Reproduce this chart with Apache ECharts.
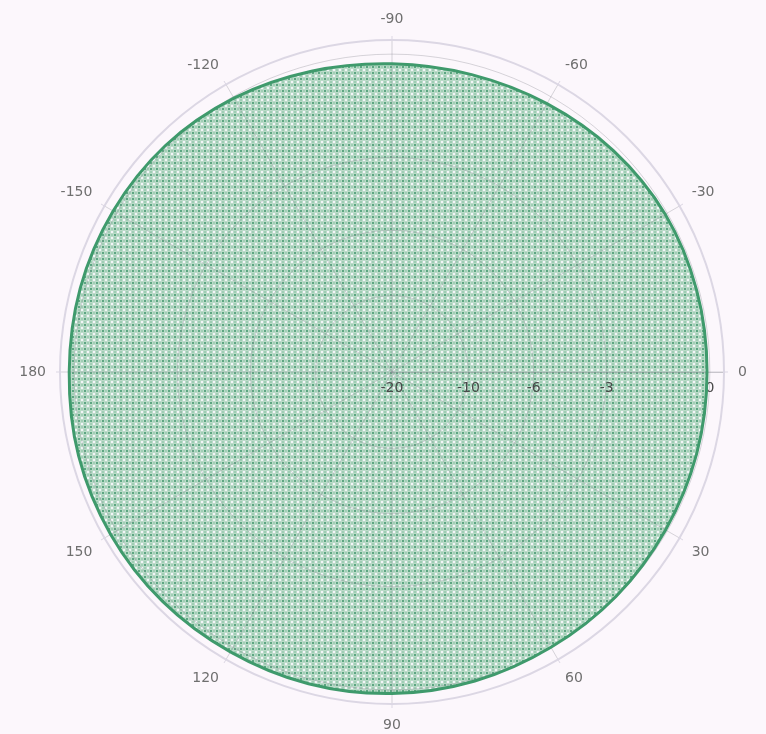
<!DOCTYPE html>
<html>
<head>
<meta charset="utf-8">
<script src="https://cdn.jsdelivr.net/npm/echarts@6/dist/echarts.min.js"></script>
<style>
html,body{margin:0;padding:0;background:#fcf7fc;}
#chart{width:766px;height:734px;}
</style>
</head>
<body>
<div id="chart"></div>
<script>
// Angles in degrees (0 = right, increasing clockwise, -90 = top)
const angles = [-180,-165,-150,-135,-120,-105,-90,-75,-60,-45,-30,-15,0,15,30,45,60,75,90,105,120,135,150,165];
// Pattern gain in dB
const gainDb = [0.12,0.12,0.10,0.06,-0.04,-0.16,-0.24,-0.25,-0.20,-0.12,-0.06,-0.06,-0.07,-0.06,-0.05,-0.02,0.00,0.05,0.09,0.12,0.13,0.16,0.17,0.16];
// Radial tick labels (dB)
const radialTicksDb = [-20,-10,-6,-3,0];
// Angular tick labels
const angleTicks = [0,30,60,90,120,150,180,-150,-120,-90,-60,-30];

const dbToMag = d => Math.pow(10, d / 20);
const toAxisAngle = a => (a < 0 ? a + 360 : a);

const seriesData = angles.map((a, i) => [dbToMag(gainDb[i]), toAxisAngle(a)]);

// dotted fill pattern
const pc = document.createElement('canvas');
pc.width = 6; pc.height = 6;
const g = pc.getContext('2d');
g.fillStyle = '#bbdbc9'; g.fillRect(0,0,6,6);
g.fillStyle = '#5ca682'; g.fillRect(0,0,2,2);
g.fillStyle = '#f3f5f8'; g.fillRect(3,3,2,2);
g.fillStyle = '#a0ceb5'; g.fillRect(3,0,2,2); g.fillRect(0,3,2,2);

// closed smooth curve through points placed by the polar coordinate system
function closedPath(api) {
  const pts = seriesData.map(d => api.coord(d));
  const n = pts.length;
  let s = 'M' + pts[0][0] + ' ' + pts[0][1];
  for (let i = 0; i < n; i++) {
    const p0 = pts[(i - 1 + n) % n], p1 = pts[i], p2 = pts[(i + 1) % n], p3 = pts[(i + 2) % n];
    const c1x = p1[0] + (p2[0] - p0[0]) / 6, c1y = p1[1] + (p2[1] - p0[1]) / 6;
    const c2x = p2[0] - (p3[0] - p1[0]) / 6, c2y = p2[1] - (p3[1] - p1[1]) / 6;
    s += 'C' + c1x + ' ' + c1y + ' ' + c2x + ' ' + c2y + ' ' + p2[0] + ' ' + p2[1];
  }
  return s + 'Z';
}

const gridColor = 'rgba(140,140,150,0.35)';
const chart = echarts.init(document.getElementById('chart'), null, {renderer: 'canvas'});
chart.setOption({
  backgroundColor: '#fcf7fc',
  animation: false,
  polar: { center: [392, 372], radius: 332 },
  angleAxis: {
    type: 'value',
    z: 3,
    min: 0, max: 360, interval: 30,
    startAngle: 0,
    clockwise: true,
    axisLine: { show: true, lineStyle: { color: '#dcd7e4', width: 2 } },
    axisTick: { show: true, length: 4, lineStyle: { color: '#dcd7e4' } },
    axisLabel: {
      margin: 14, color: '#6f6f6f', fontSize: 14, fontFamily: 'DejaVu Sans, sans-serif',
      formatter: v => {
        const a = v > 180 ? v - 360 : v;
        return angleTicks.indexOf(a) >= 0 ? String(a) : '';
      }
    },
    splitLine: { show: true, lineStyle: { color: gridColor, width: 1 } }
  },
  radiusAxis: {
    type: 'value',
    z: 3,
    min: 0.1, max: 1.04,
    axisLine: { show: true, lineStyle: { color: gridColor } },
    axisTick: { show: false, customValues: radialTicksDb.map(dbToMag) },
    axisLabel: {
      customValues: radialTicksDb.map(dbToMag),
      color: '#4a4a4a', fontSize: 14, fontFamily: 'DejaVu Sans, sans-serif',
      margin: -9, verticalAlign: 'top',
      formatter: v => String(Math.round(20 * Math.log10(v)))
    },
    splitLine: { show: true, lineStyle: { color: gridColor, width: 1 } }
  },
  series: [{
    type: 'custom',
    coordinateSystem: 'polar',
    data: seriesData,
    z: 2,
    silent: true,
    renderItem: (params, api) => {
      if (params.dataIndex !== 0) return null;
      return { type: 'path', shape: { pathData: closedPath(api) },
        style: { fill: { image: pc, repeat: 'repeat' }, stroke: null } };
    }
  }, {
    type: 'custom',
    coordinateSystem: 'polar',
    data: seriesData,
    z: 4,
    silent: true,
    renderItem: (params, api) => {
      if (params.dataIndex !== 0) return null;
      return { type: 'path', shape: { pathData: closedPath(api) },
        style: { fill: null, stroke: '#3f9a6c', lineWidth: 3 } };
    }
  }]
});
</script>
</body>
</html>
